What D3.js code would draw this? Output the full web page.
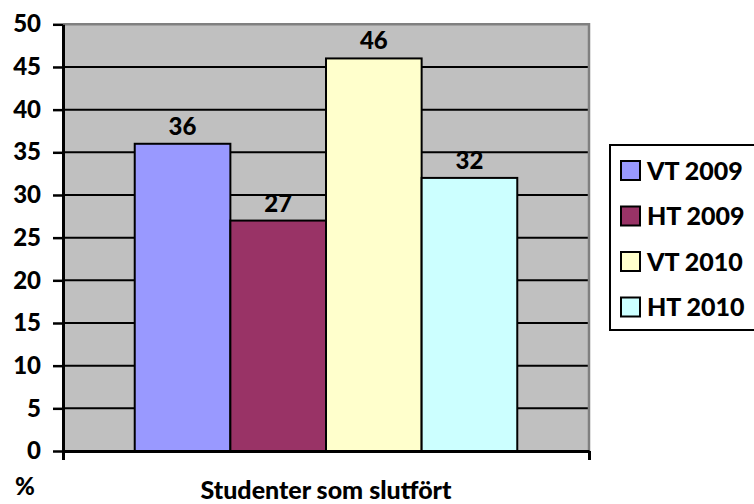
<!DOCTYPE html>
<html>
<head>
<meta charset="utf-8">
<script src="https://cdn.jsdelivr.net/npm/d3@7"></script>
<style>
  body { margin: 0; background: #fff; }
  svg { display: block; font-family: Lato, "Open Sans", sans-serif; font-weight: 900; }
</style>
</head>
<body>
<div id="main"></div>
<script>
// chart data
var category = "Studenter som slutfört";
var seriesNames = ["VT 2009", "HT 2009", "VT 2010", "HT 2010"];
var seriesValues = [36, 27, 46, 32];
var seriesColors = ["#9999FF", "#993366", "#FFFFCC", "#CCFFFF"];
var yTicks = [0, 5, 10, 15, 20, 25, 30, 35, 40, 45, 50];
var yUnit = "%";

const width = 754;
const height = 504;
const plotLeft = 63;
const plotRight = 589;
const plotTop = 24.3;
const plotBottom = 451;

const svg = d3.select("#main")
    .append("svg")
    .attr("width", width)
    .attr("height", height);

const yScale = d3.scaleLinear()
    .domain([0, 50])
    .range([plotBottom, plotTop]);

const xScale = d3.scaleBand()
    .domain([category])
    .range([plotLeft, plotRight])
    .padding(0);

const barScale = d3.scaleBand()
    .domain(seriesNames)
    .range([0, xScale.bandwidth()])
    .paddingInner(0)
    .paddingOuter(0.75);

// plot background
svg.append("rect")
    .attr("x", plotLeft)
    .attr("y", plotTop)
    .attr("width", plotRight - plotLeft)
    .attr("height", plotBottom - plotTop)
    .style("fill", "#C0C0C0");

// gridlines
svg.append("g")
    .selectAll("line")
    .data(yTicks.filter((d) => d > 0 && d < 50))
    .enter()
    .append("line")
    .attr("x1", plotLeft)
    .attr("x2", plotRight)
    .attr("y1", (d) => yScale(d))
    .attr("y2", (d) => yScale(d))
    .style("stroke", "#000")
    .style("stroke-width", 2);

// plot border (top and right)
svg.append("path")
    .attr("d", "M" + plotLeft + "," + plotTop + "H" + plotRight + "V" + plotBottom)
    .style("fill", "none")
    .style("stroke", "#808080")
    .style("stroke-width", 2.5);

// bars
svg.append("g")
    .selectAll("rect")
    .data(seriesValues)
    .enter()
    .append("rect")
    .attr("x", (d, i) => xScale(category) + barScale(seriesNames[i]))
    .attr("y", (d) => yScale(d))
    .attr("width", barScale.bandwidth())
    .attr("height", (d) => plotBottom - yScale(d))
    .style("fill", (d, i) => seriesColors[i])
    .style("stroke", "#000")
    .style("stroke-width", 2);

// value labels
svg.append("g")
    .selectAll("text")
    .data(seriesValues)
    .enter()
    .append("text")
    .attr("x", (d, i) => xScale(category) + barScale(seriesNames[i]) + barScale.bandwidth() / 2)
    .attr("y", (d) => yScale(d) - 9)
    .attr("text-anchor", "middle")
    .style("font-size", "24px")
    .text((d) => d);

// y axis
const yAxis = d3.axisLeft(yScale)
    .tickValues(yTicks)
    .tickSizeInner(10)
    .tickSizeOuter(0)
    .tickPadding(12);

const yAxisG = svg.append("g")
    .attr("transform", "translate(" + plotLeft + ",0)")
    .call(yAxis);
yAxisG.select(".domain").style("stroke", "#000").style("stroke-width", 3);
yAxisG.selectAll(".tick line").style("stroke", "#000").style("stroke-width", 2.5);
yAxisG.selectAll(".tick text")
    .style("font-family", "Lato, sans-serif")
    .style("font-weight", "900")
    .style("font-size", "24px")
    .style("fill", "#000");

// x axis with ticks at the category edges
const xAxis = d3.axisBottom(d3.scaleLinear().domain([0, 1]).range(xScale.range()))
    .tickValues([0, 1])
    .tickSizeInner(9)
    .tickSizeOuter(0)
    .tickFormat("");

const xAxisG = svg.append("g")
    .attr("transform", "translate(0," + plotBottom + ")")
    .call(xAxis);
xAxisG.select(".domain").style("stroke", "#000").style("stroke-width", 3);
xAxisG.selectAll(".tick line").style("stroke", "#000").style("stroke-width", 3);

// category label
svg.append("text")
    .attr("x", xScale(category) + xScale.bandwidth() / 2)
    .attr("y", 499)
    .attr("text-anchor", "middle")
    .style("font-size", "25px")
    .text(category);

// unit label
svg.append("text")
    .attr("x", 15)
    .attr("y", 495)
    .style("font-size", "24px")
    .text(yUnit);

// legend
const legend = svg.append("g");
legend.append("rect")
    .attr("x", 610)
    .attr("y", 145)
    .attr("width", 170)
    .attr("height", 185)
    .style("fill", "#fff")
    .style("stroke", "#000")
    .style("stroke-width", 2);

const legendItem = legend.selectAll("g.item")
    .data(seriesNames)
    .enter()
    .append("g")
    .attr("class", "item")
    .attr("transform", (d, i) => "translate(621," + (170.5 + i * 45.5) + ")");

legendItem.append("rect")
    .attr("x", 0)
    .attr("y", -9.5)
    .attr("width", 19)
    .attr("height", 19)
    .style("fill", (d, i) => seriesColors[i])
    .style("stroke", "#000")
    .style("stroke-width", 2);

legendItem.append("text")
    .attr("x", 26)
    .attr("y", 9)
    .style("font-size", "25px")
    .text((d) => d);
</script>
</body>
</html>
